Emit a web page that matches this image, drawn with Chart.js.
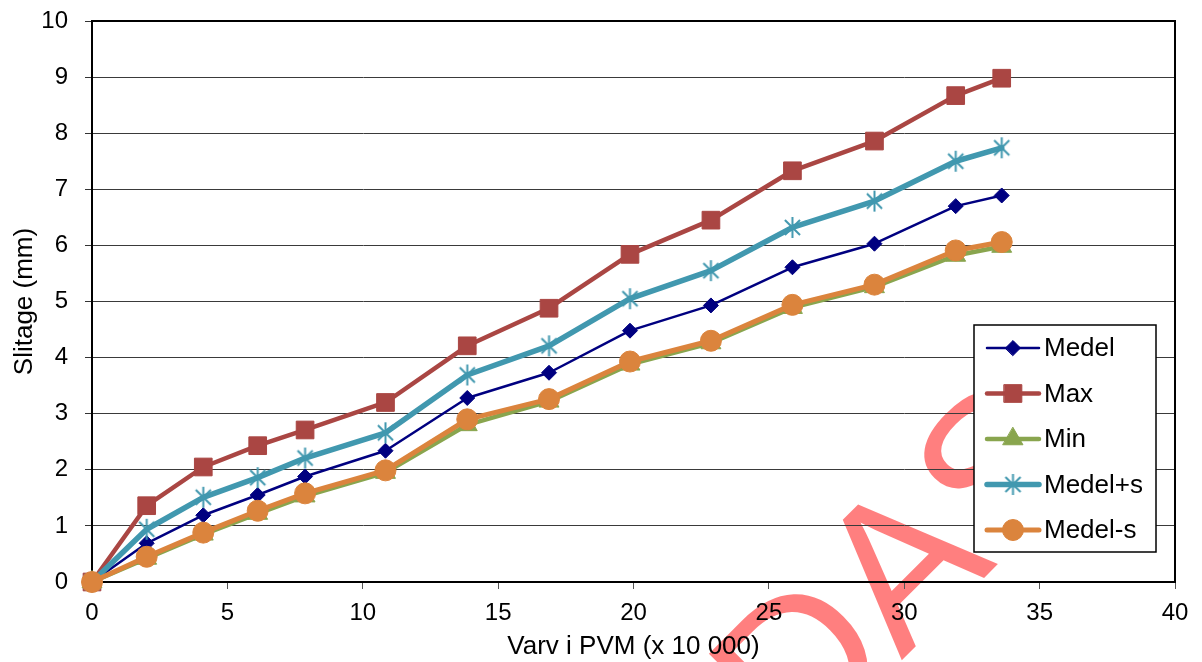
<!DOCTYPE html>
<html>
<head>
<meta charset="utf-8">
<script src="https://cdn.jsdelivr.net/npm/chart.js@4/dist/chart.umd.min.js"></script>
<style>
  html, body { margin: 0; padding: 0; background: #fff; }
  canvas { display: block; }
</style>
</head>
<body>
<canvas id="c" width="1202" height="662"></canvas>
<script>
// Revolutions (x 10 000) at each measurement
const varv = [0, 2.02, 4.11, 6.12, 7.87, 10.84, 13.86, 16.88, 19.87, 22.86, 25.87, 28.9, 31.9, 33.6];

// Wear (mm)
const medel      = [0, 0.69, 1.19, 1.55, 1.88, 2.34, 3.28, 3.73, 4.48, 4.93, 5.61, 6.03, 6.70, 6.89];
const maxVarden  = [0, 1.36, 2.05, 2.43, 2.71, 3.20, 4.21, 4.88, 5.84, 6.45, 7.33, 7.86, 8.67, 8.98];
const minVarden  = [0, 0.42, 0.85, 1.22, 1.53, 1.95, 2.80, 3.22, 3.88, 4.26, 4.89, 5.26, 5.82, 5.98];
const medelPlusS = [0, 0.94, 1.51, 1.86, 2.21, 2.66, 3.69, 4.21, 5.05, 5.55, 6.32, 6.79, 7.50, 7.74];
const medelMinusS= [0, 0.45, 0.88, 1.27, 1.58, 1.99, 2.90, 3.26, 3.93, 4.30, 4.94, 5.30, 5.91, 6.06];

const seriesNames = ['Medel', 'Max', 'Min', 'Medel+s', 'Medel-s'];
const xTickValues = [0, 5, 10, 15, 20, 25, 30, 35, 40];
const yTickValues = [0, 1, 2, 3, 4, 5, 6, 7, 8, 9, 10];

const FONT = '"Liberation Sans", Arial, Helvetica, sans-serif';

// Six-armed asterisk marker
function asteriskMarker(color, size, lw) {
  const c = document.createElement('canvas');
  c.width = size; c.height = size;
  const g = c.getContext('2d');
  const m = size / 2, r = size / 2 - 1;
  const d = r * 0.72;
  g.strokeStyle = color;
  g.lineWidth = lw;
  g.beginPath();
  g.moveTo(m, m - r); g.lineTo(m, m + r);
  g.moveTo(m - d, m - d); g.lineTo(m + d, m + d);
  g.moveTo(m + d, m - d); g.lineTo(m - d, m + d);
  g.stroke();
  return c;
}

function pts(ys) { return varv.map((x, i) => ({ x: x, y: ys[i] })); }

const styles = [
  { color: '#000080', width: 2.5, style: 'rectRot', radius: 7.5 },
  { color: '#AA4643', width: 4.5, style: 'rect', radius: 12.5 },
  { color: '#89A54E', width: 4.5, style: 'triangle', radius: 11.5 },
  { color: '#4198AF', width: 5.5, style: asteriskMarker('#4198AF', 23, 2), radius: 11 },
  { color: '#DB843D', width: 5, style: 'circle', radius: 10.5 }
];
const seriesData = [medel, maxVarden, minVarden, medelPlusS, medelMinusS];

const datasets = seriesNames.map((name, i) => ({
  label: name,
  data: pts(seriesData[i]),
  borderColor: styles[i].color,
  backgroundColor: styles[i].color,
  borderWidth: styles[i].width,
  borderJoinStyle: 'round',
  borderCapStyle: 'round',
  pointStyle: styles[i].style,
  pointRadius: styles[i].radius,
  pointHoverRadius: styles[i].radius,
  pointBorderWidth: 1,
  pointBackgroundColor: styles[i].color,
  pointBorderColor: styles[i].color,
  tension: 0,
  clip: false,
  order: seriesNames.length - i
}));

// Faint lettering behind the whole chart
const backdrop = {
  id: 'backdrop',
  beforeDraw(chart) {
    const ctx = chart.ctx;
    ctx.save();
    ctx.translate(950, 612);
    ctx.rotate(-45 * Math.PI / 180);
    ctx.font = '205px ' + FONT;
    ctx.fillStyle = 'rgba(255,0,0,0.5)';
    ctx.textAlign = 'center';
    ctx.textBaseline = 'alphabetic';
    ctx.fillText('DAS', -6, 0);
    ctx.restore();
  }
};

// Top and right frame of the plot area
const frame = {
  id: 'frame',
  beforeDatasetsDraw(chart) {
    const { ctx, chartArea: a } = chart;
    ctx.save();
    ctx.strokeStyle = '#000';
    ctx.lineWidth = 2;
    ctx.beginPath();
    ctx.moveTo(a.left, a.top);
    ctx.lineTo(a.right, a.top);
    ctx.lineTo(a.right, a.bottom);
    ctx.stroke();
    ctx.restore();
  }
};

// Boxed legend inside the plot area
const boxLegend = {
  id: 'boxLegend',
  afterDraw(chart) {
    const ctx = chart.ctx;
    const bx = 974, by = 325, bw = 182, bh = 227;
    ctx.save();
    ctx.fillStyle = '#fff';
    ctx.fillRect(bx, by, bw, bh);
    ctx.strokeStyle = '#000';
    ctx.lineWidth = 1.5;
    ctx.strokeRect(bx, by, bw, bh);
    chart.data.datasets.forEach((ds, i) => {
      const y = by + 23 + i * 45.5;
      ctx.strokeStyle = ds.borderColor;
      ctx.lineWidth = ds.borderWidth;
      ctx.lineCap = 'round';
      ctx.beginPath();
      ctx.moveTo(987, y);
      ctx.lineTo(1039, y);
      ctx.stroke();
      ctx.fillStyle = ds.pointBackgroundColor;
      ctx.strokeStyle = ds.pointBorderColor;
      ctx.lineWidth = 1;
      Chart.helpers.drawPoint(ctx, { pointStyle: ds.pointStyle, radius: ds.pointRadius, rotation: 0, borderWidth: 1 }, 1013, y);
      ctx.fillStyle = '#000';
      ctx.font = '26px ' + FONT;
      ctx.textAlign = 'left';
      ctx.textBaseline = 'middle';
      ctx.fillText(ds.label, 1044, y + 1);
    });
    ctx.restore();
  }
};

new Chart(document.getElementById('c'), {
  type: 'line',
  data: { datasets },
  plugins: [backdrop, frame, boxLegend],
  options: {
    responsive: false,
    animation: false,
    devicePixelRatio: 1,
    events: [],
    layout: { padding: { left: 0, top: 21, right: 27, bottom: 0 } },
    plugins: { legend: { display: false }, tooltip: { enabled: false } },
    scales: {
      x: {
        type: 'linear',
        min: 0, max: 40,
        afterBuildTicks: s => { s.ticks = xTickValues.map(v => ({ value: v })); },
        afterFit: s => { s.height = 80; s.paddingLeft = 0; s.paddingRight = 0; },
        ticks: { font: { family: FONT, size: 24 }, color: '#000', padding: 10, maxRotation: 0 },
        grid: { drawOnChartArea: false, drawTicks: true, tickLength: 7, tickColor: '#555', tickWidth: 1 },
        border: { display: true, color: '#000', width: 2 },
        title: { display: true, text: 'Varv i PVM (x 10 000)', color: '#000',
                 font: { family: FONT, size: 26 }, padding: { top: 0, bottom: 0 } }
      },
      y: {
        min: 0, max: 10,
        afterBuildTicks: s => { s.ticks = yTickValues.map(v => ({ value: v })); },
        afterFit: s => { s.width = 92; s.paddingTop = 0; s.paddingBottom = 0; },
        ticks: { font: { family: FONT, size: 24 }, color: '#000', padding: 17 },
        grid: { color: '#3a3a3a', lineWidth: 1, tickLength: 7, tickColor: '#333' },
        border: { display: true, color: '#000', width: 2 },
        title: { display: true, text: 'Slitage (mm)', color: '#000',
                 font: { family: FONT, size: 26 }, padding: { top: 9, bottom: 0 } }
      }
    }
  }
});
</script>
</body>
</html>
